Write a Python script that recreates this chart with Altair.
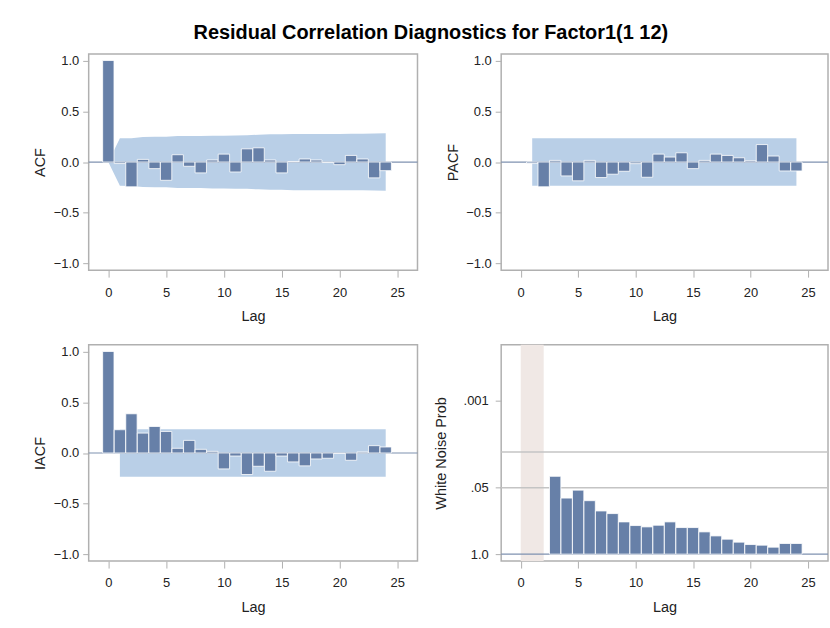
import math

import altair as alt
import pandas as pd

TITLE = "Residual Correlation Diagnostics for Factor1(1 12)"

# Autocorrelation of the residuals, lags 0-24
acf_lags = list(range(0, 25))
acf_values = [1.0, -0.015, -0.244, 0.026, -0.065, -0.18, 0.072, -0.042, -0.107,
              0.02, 0.078, -0.098, 0.13, 0.14, 0.02, -0.107, 0.005, 0.03, 0.02,
              -0.005, -0.026, 0.065, 0.03, -0.156, -0.085]
# two-standard-error limits of the ACF
acf_limit = [0.0, 0.234, 0.235, 0.247, 0.248, 0.249, 0.256, 0.257, 0.257, 0.260,
             0.260, 0.262, 0.264, 0.269, 0.274, 0.274, 0.277, 0.277, 0.277, 0.277,
             0.277, 0.278, 0.279, 0.280, 0.283]

# Partial autocorrelation, lags 1-24
pacf_lags = list(range(1, 25))
pacf_values = [-0.013, -0.244, 0.016, -0.137, -0.185, 0.016, -0.153, -0.12,
               -0.091, -0.016, -0.15, 0.078, 0.049, 0.091, -0.065, 0.016, 0.078,
               0.065, 0.042, 0.013, 0.172, 0.059, -0.088, -0.088]

# Inverse autocorrelation, lags 0-24
iacf_lags = list(range(0, 25))
iacf_values = [1.0, 0.229, 0.386, 0.196, 0.261, 0.212, 0.046, 0.124, 0.036, 0.016,
               -0.157, -0.03, -0.212, -0.131, -0.18, -0.03, -0.088, -0.127, -0.059,
               -0.052, -0.005, -0.072, 0.01, 0.072, 0.059]

# constant limits for PACF and IACF, drawn over lags 1-24
band_lags = [1, 24]
pacf_limit = 0.234
iacf_limit = 0.234

# White-noise test p-values, lags 3-24
wn_lags = list(range(3, 25))
wn_prob = [0.030, 0.080, 0.056, 0.090, 0.143, 0.161, 0.234, 0.276, 0.293, 0.272,
           0.234, 0.302, 0.302, 0.367, 0.440, 0.510, 0.583, 0.649, 0.668, 0.731,
           0.619, 0.619]
wn_untested = [0, 2]          # lags with no test (used up by the model)
wn_ref_probs = [0.05, 0.01]   # significance reference lines
wn_tick_probs = [1.0, 0.05, 0.001]
wn_tick_labels = ["1.0", ".05", ".001"]

lag_ticks = [0, 5, 10, 15, 20, 25]
corr_ticks = [-1.0, -0.5, 0.0, 0.5, 1.0]

# styling
FONT = "Liberation Sans"
BAR = "#6780a8"
BAND = "#b9cfe7"
ZERO = "#7f92b0"
REF = "#c4c4c4"
UNTESTED = "#f0e8e5"
FRAME = "#b0b0b0"
LAG_DOMAIN = [-1.7, 26.75]
CORR_DOMAIN = [-1.065, 1.065]
WN_DOMAIN = [-0.136, 4.094]
PANEL_H = 217
BAR_W = 11.4


def lag_x(field):
    return alt.X(
        f"{field}:Q",
        scale=alt.Scale(domain=LAG_DOMAIN, nice=False, zero=False, padding=0),
        axis=alt.Axis(values=lag_ticks, title="Lag", format="d",
                      tickSize=7, labelPadding=9, titlePadding=11),
    )


def y_axis(title, **kw):
    opts = dict(title=title, minExtent=34, maxExtent=34, tickSize=6,
                labelPadding=4, titlePadding=7)
    opts.update(kw)
    return alt.Axis(**opts)


def corr_y(field, title):
    return alt.Y(
        f"{field}:Q",
        scale=alt.Scale(domain=CORR_DOMAIN, nice=False, zero=False, padding=0),
        axis=y_axis(title, values=corr_ticks, format=".1f"),
    )


def corr_panel(lags, values, band_df, ytitle, width, flat):
    if flat:
        band = alt.Chart(band_df).mark_rect(color=BAND).encode(
            x=lag_x("x0"), x2="x1:Q", y=corr_y("lo", ytitle), y2="hi:Q"
        )
    else:
        band = alt.Chart(band_df).mark_area(color=BAND, opacity=1, interpolate="linear").encode(
            x=lag_x("lag"), y=corr_y("lo", ytitle), y2="hi:Q"
        )
    zero = alt.Chart(pd.DataFrame({"v": [0.0]})).mark_rule(
        color=ZERO, strokeWidth=1.2
    ).encode(y=corr_y("v", ytitle))
    bars = alt.Chart(pd.DataFrame({"lag": lags, "value": values})).mark_bar(
        size=BAR_W, color=BAR, stroke="white", strokeWidth=0.8
    ).encode(x=lag_x("lag"), y=corr_y("value", ytitle), y2=alt.datum(0))
    return alt.layer(band, zero, bars).properties(width=width, height=PANEL_H)


def flat_band_df(limit):
    return pd.DataFrame({"x0": [band_lags[0]], "x1": [band_lags[1]],
                         "lo": [-limit], "hi": [limit]})


# ACF limits widen with lag
acf_band_df = pd.DataFrame({"lag": acf_lags, "lo": [-v for v in acf_limit], "hi": acf_limit})

acf_panel = corr_panel(acf_lags, acf_values, acf_band_df, "ACF", 330, False)
pacf_panel = corr_panel(pacf_lags, pacf_values, flat_band_df(pacf_limit), "PACF", 328, True)
iacf_panel = corr_panel(iacf_lags, iacf_values, flat_band_df(iacf_limit), "IACF", 330, True)

# White-noise panel: bars are -log10(p)
wn_tick_pos = [-math.log10(p) + 0.0 for p in wn_tick_probs]
label_expr = "''"
for pos, lab in reversed(list(zip(wn_tick_pos, wn_tick_labels))):
    label_expr = f"abs(datum.value - ({pos:.6f})) < 0.001 ? '{lab}' : ({label_expr})"


def wn_y(field):
    return alt.Y(
        f"{field}:Q",
        scale=alt.Scale(domain=WN_DOMAIN, nice=False, zero=False, padding=0),
        axis=y_axis("White Noise Prob", values=wn_tick_pos, labelExpr=label_expr,
                    labelPadding=7, titlePadding=19),
    )


untested = alt.Chart(pd.DataFrame({
    "x0": [wn_untested[0]], "x1": [wn_untested[1]]
})).mark_rect(color=UNTESTED).encode(x=lag_x("x0"), x2="x1:Q")

refs = alt.Chart(pd.DataFrame({"p": wn_ref_probs})).transform_calculate(
    h="-log(datum.p) / LN10"
).mark_rule(color=REF, strokeWidth=1.5).encode(y=wn_y("h"))

base = alt.Chart(pd.DataFrame({"p": [1.0]})).transform_calculate(
    h="-log(datum.p) / LN10"
).mark_rule(color=ZERO, strokeWidth=1.2).encode(y=wn_y("h"))

wn_bars = alt.Chart(pd.DataFrame({"lag": wn_lags, "p": wn_prob})).transform_calculate(
    h="-log(datum.p) / LN10"
).mark_bar(size=BAR_W, color=BAR, stroke="white", strokeWidth=0.8).encode(
    x=lag_x("lag"), y=wn_y("h"), y2=alt.datum(0),
)

wn_panel = alt.layer(untested, refs, base, wn_bars).properties(width=328, height=PANEL_H)

top = alt.hconcat(acf_panel, pacf_panel, spacing=25)
bottom = alt.hconcat(iacf_panel, wn_panel, spacing=13)

chart = alt.vconcat(top, bottom, spacing=19).properties(
    title=alt.TitleParams(TITLE, fontSize=20, fontWeight="bold", anchor="middle",
                          font=FONT, color="black", offset=10),
    padding={"left": 32, "top": 22, "right": 0, "bottom": 0},
    background="white",
).configure_view(
    stroke=FRAME, strokeWidth=1.5
).configure_axis(
    labelFont=FONT, titleFont=FONT, labelFontSize=13, titleFontSize=14.5,
    titleFontWeight="normal", labelColor="#222", titleColor="#222",
    tickColor=FRAME, grid=False, domain=False,
)

chart.save("out.html", embed_options={"renderer": "svg", "actions": False})
